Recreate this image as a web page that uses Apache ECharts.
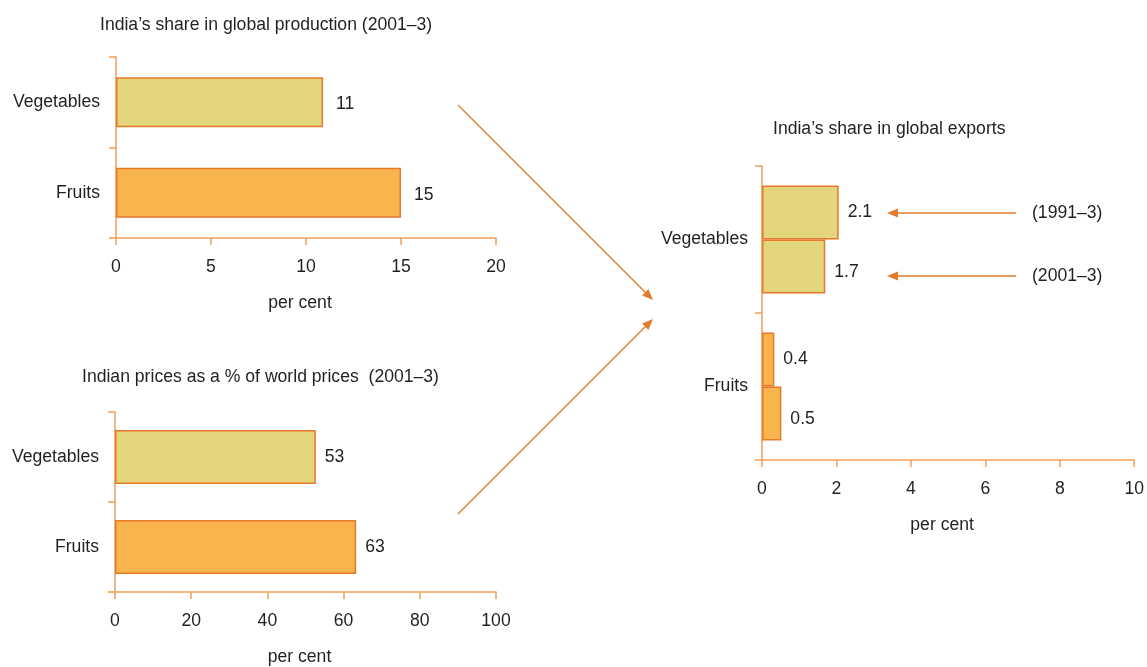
<!DOCTYPE html>
<html>
<head>
<meta charset="utf-8">
<script src="https://cdn.jsdelivr.net/npm/echarts@6/dist/echarts.min.js"></script>
<style>html,body{margin:0;padding:0;background:#fff}#c{width:1147px;height:667px}</style>
</head>
<body>
<div id="c"></div>
<script>
// ---- data ----
var categories = ['Vegetables', 'Fruits'];
var titles = [
  'India\u2019s share in global production (2001\u20133)',
  'Indian prices as a % of world prices  (2001\u20133)',
  'India\u2019s share in global exports'
];
var axisName = 'per cent';
var productionValues = [10.9, 15];
var productionLabels = ['11', '15'];
var pricesValues = [52.7, 63.3];
var pricesLabels = ['53', '63'];
var exportSeriesNames = ['(1991\u20133)', '(2001\u20133)'];
var exports1991Values = [2.06, 0.33];
var exports1991Labels = ['2.1', '0.4'];
var exports2001Values = [1.7, 0.52];
var exports2001Labels = ['1.7', '0.5'];
var productionTicks = {min: 0, max: 20, interval: 5};
var pricesTicks = {min: 0, max: 100, interval: 20};
var exportsTicks = {min: 0, max: 10, interval: 2};

// ---- styles ----
var FONT = "'Liberation Sans', Arial, sans-serif";
var FS = 17.6;
var TXT = '#231F20';
var AXIS = '#EF9E58';
var BORDER = '#E8772A';
var ARROW = '#E27B2A';
var colVeg = '#E2D57B';
var colFruit = '#F9B54D';

function xAx(idx, t) {
  return {
    type: 'value', gridIndex: idx, min: t.min, max: t.max, interval: t.interval,
    name: axisName, nameLocation: 'middle', nameGap: 56,
    nameTextStyle: {color: TXT, fontSize: FS, fontFamily: FONT, padding: [0, 12, 0, 0]},
    axisLine: {show: true, lineStyle: {color: AXIS, width: 1.5}},
    axisTick: {show: true, length: 7, lineStyle: {color: AXIS, width: 1.5}},
    axisLabel: {color: TXT, fontSize: FS, fontFamily: FONT, margin: 20},
    splitLine: {show: false}
  };
}
function yAx(idx, margin) {
  return {
    type: 'category', gridIndex: idx, data: categories, inverse: true,
    axisLine: {show: true, lineStyle: {color: AXIS, width: 1.5}},
    axisTick: {show: true, length: 7, lineStyle: {color: AXIS, width: 1.5}},
    axisLabel: {color: TXT, fontSize: FS, fontFamily: FONT, margin: margin},
    splitLine: {show: false}
  };
}
function colorsFor(i) { return i === 0 ? colVeg : colFruit; }
function barSeries(idx, values, labels, width, dist, off) {
  return {
    type: 'bar', xAxisIndex: idx, yAxisIndex: idx, barWidth: width, barGap: '0%',
    data: values.map(function (v, i) {
      return {value: v, itemStyle: {color: colorsFor(i)}};
    }),
    itemStyle: {borderColor: BORDER, borderWidth: 1.5},
    label: {
      show: true, position: 'right', distance: dist, offset: off || [0, 0],
      color: TXT, fontSize: FS, fontFamily: FONT,
      formatter: function (p) { return labels[p.dataIndex]; }
    },
    emphasis: {disabled: true}, animation: false
  };
}

function arrow(x1, y1, x2, y2, len, half) {
  var dx = x2 - x1, dy = y2 - y1, L = Math.sqrt(dx * dx + dy * dy);
  var ux = dx / L, uy = dy / L;
  var bx = x2 - ux * len, by = y2 - uy * len;
  var px = -uy * half, py = ux * half;
  return [
    {type: 'line', shape: {x1: x1, y1: y1, x2: bx, y2: by}, style: {stroke: ARROW, lineWidth: 1.3}, silent: true},
    {type: 'polygon', shape: {points: [[x2, y2], [bx + px, by + py], [bx - px, by - py]]}, style: {fill: ARROW}, silent: true}
  ];
}

var graphics = [];
graphics = graphics.concat(arrow(458, 105, 653, 300, 11, 4.5));
graphics = graphics.concat(arrow(458, 514, 653, 319, 11, 4.5));
graphics = graphics.concat(arrow(1016, 213, 887, 213, 11, 4.5));
graphics = graphics.concat(arrow(1016, 276, 887, 276, 11, 4.5));
graphics.push({type: 'text', left: 1032, top: 204, style: {text: exportSeriesNames[0], fill: TXT, font: FS + 'px ' + FONT}});
graphics.push({type: 'text', left: 1032, top: 267, style: {text: exportSeriesNames[1], fill: TXT, font: FS + 'px ' + FONT}});

var chart = echarts.init(document.getElementById('c'));
chart.setOption({
  backgroundColor: '#ffffff',
  animation: false,
  title: [
    {text: titles[0], left: 100, top: 16, padding: 0, textStyle: {color: TXT, fontSize: FS, fontWeight: 'normal', fontFamily: FONT}},
    {text: titles[1], left: 82, top: 368, padding: 0, textStyle: {color: TXT, fontSize: FS, fontWeight: 'normal', fontFamily: FONT}},
    {text: titles[2], left: 773, top: 120, padding: 0, textStyle: {color: TXT, fontSize: FS, fontWeight: 'normal', fontFamily: FONT}}
  ],
  grid: [
    {left: 116, top: 57, width: 380, height: 181},
    {left: 115, top: 412, width: 381, height: 182},
    {left: 762, top: 166, width: 373, height: 294}
  ],
  xAxis: [xAx(0, productionTicks), xAx(1, pricesTicks), xAx(2, exportsTicks)],
  yAxis: [yAx(0, 16), yAx(1, 16), yAx(2, 14)],
  series: [
    barSeries(0, productionValues, productionLabels, 50, 13, [0, 2]),
    barSeries(1, pricesValues, pricesLabels, 54, 9),
    barSeries(2, exports1991Values, exports1991Labels, 54, 9, [0, 0]),
    barSeries(2, exports2001Values, exports2001Labels, 54, 9, [0, 6])
  ],
  graphic: graphics
});
</script>
</body>
</html>
